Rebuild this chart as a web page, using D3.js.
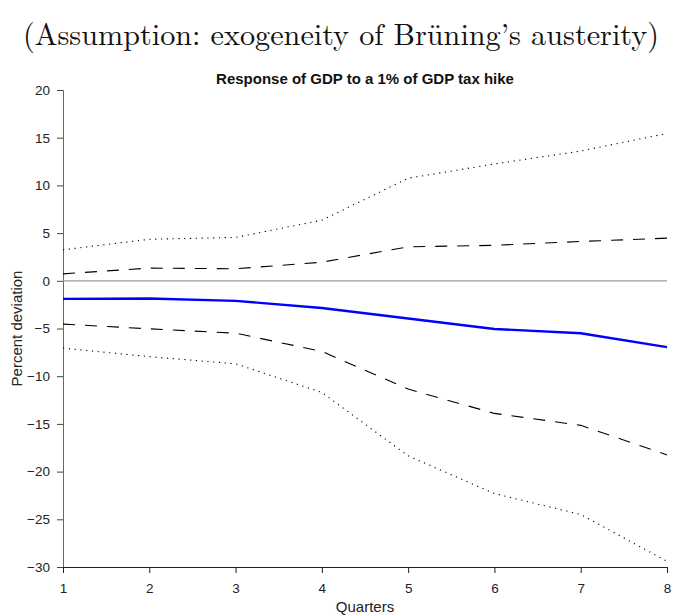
<!DOCTYPE html>
<html>
<head>
<meta charset="utf-8">
<script src="https://cdn.jsdelivr.net/npm/d3@7"></script>
<style>
  html, body { margin: 0; padding: 0; background: #fff; }
  svg { display: block; }
</style>
</head>
<body>
<svg id="chart" width="675" height="615"></svg>
<script>
// Impulse response of GDP to a 1% of GDP tax hike, by quarter
const quarters = [1, 2, 3, 4, 5, 6, 7, 8];
const response = [-1.89, -1.85, -2.1, -2.85, -3.95, -5.05, -5.5, -6.95];
const upper68 = [0.73, 1.33, 1.26, 1.95, 3.56, 3.72, 4.12, 4.47];
const lower68 = [-4.54, -5.03, -5.49, -7.4, -11.35, -13.9, -15.15, -18.25];
const upper90 = [3.25, 4.35, 4.55, 6.35, 10.75, 12.25, 13.6, 15.45];
const lower90 = [-7.06, -7.95, -8.7, -11.7, -18.35, -22.3, -24.5, -29.4];
const yTicks = [20, 15, 10, 5, 0, -5, -10, -15, -20, -25, -30];

const svg = d3.select("#chart");
const m = { left: 63, right: 667, top: 90, bottom: 567 };
const sans = "'Liberation Sans', Arial, sans-serif";

const x = d3.scaleLinear().domain([1, 8]).range([m.left, m.right]);
const y = d3.scaleLinear().domain([-30, 20]).range([m.bottom, m.top]);

// Caption above the panel, sized so it spans the page width
const caption = svg.append("text")
  .attr("x", 341).attr("y", 45)
  .attr("text-anchor", "middle")
  .attr("font-family", "'Latin Modern Roman', 'CMU Serif', 'Liberation Serif', serif")
  .attr("font-size", 32)
  .attr("fill", "#111")
  .text("(Assumption: exogeneity of Brüning’s austerity)");
const capLen = caption.node().getComputedTextLength();
caption.attr("font-size", Math.min(32, 32 * 636 / capLen));

// Panel title
svg.append("text")
  .attr("x", (m.left + m.right) / 2).attr("y", 84)
  .attr("text-anchor", "middle")
  .attr("font-family", sans)
  .attr("font-weight", "bold")
  .attr("font-size", 15)
  .attr("fill", "#111")
  .text("Response of GDP to a 1% of GDP tax hike");

// Y axis
const yAxis = svg.append("g")
  .attr("transform", `translate(${m.left},0)`)
  .call(d3.axisLeft(y).tickValues(yTicks).tickSize(6).tickPadding(7).tickFormat(d3.format("d")));
yAxis.select(".domain").attr("stroke", "#666").attr("stroke-width", 1);
yAxis.selectAll(".tick line").attr("stroke", "#444");
yAxis.selectAll(".tick text")
  .attr("font-family", sans)
  .attr("font-size", 13.5).attr("fill", "#222");

// X axis
const xAxis = svg.append("g")
  .attr("transform", `translate(0,${m.bottom})`)
  .call(d3.axisBottom(x).tickValues(quarters).tickSize(6).tickPadding(10).tickFormat(d3.format("d")));
xAxis.select(".domain").attr("stroke", "#222").attr("stroke-width", 1);
xAxis.selectAll(".tick line").attr("stroke", "#222");
xAxis.selectAll(".tick text")
  .attr("font-family", sans)
  .attr("font-size", 13.5).attr("fill", "#222");

// Axis titles
svg.append("text")
  .attr("x", (m.left + m.right) / 2).attr("y", 612)
  .attr("text-anchor", "middle")
  .attr("font-family", sans)
  .attr("font-size", 15).attr("fill", "#222")
  .text("Quarters");
svg.append("text")
  .attr("transform", `translate(22,${(m.top + m.bottom) / 2}) rotate(-90)`)
  .attr("text-anchor", "middle")
  .attr("font-family", sans)
  .attr("font-size", 15).attr("fill", "#222")
  .text("Percent deviation");

// Zero reference line
svg.append("line")
  .attr("x1", m.left).attr("x2", m.right)
  .attr("y1", y(0)).attr("y2", y(0))
  .attr("stroke", "#999").attr("stroke-width", 1.2);

const line = d3.line().x((d, i) => x(quarters[i])).y(d => y(d));

function band(values, dash, width) {
  svg.append("path")
    .datum(values)
    .attr("d", line)
    .attr("fill", "none")
    .attr("stroke", "#000")
    .attr("stroke-width", width)
    .attr("stroke-dasharray", dash);
}

band(upper90, "1.2,4.6", 1.1);
band(lower90, "1.2,4.6", 1.1);
band(upper68, "12,10", 1.1);
band(lower68, "12,10", 1.1);

svg.append("path")
  .datum(response)
  .attr("d", line)
  .attr("fill", "none")
  .attr("stroke", "#0000ff")
  .attr("stroke-width", 2.4);
</script>
</body>
</html>
